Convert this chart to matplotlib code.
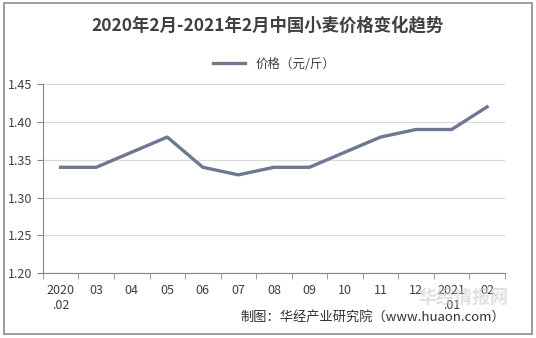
import matplotlib.pyplot as plt
from matplotlib.patches import Rectangle

plt.rcParams['font.family'] = ['Noto Sans CJK SC', 'DejaVu Sans']

months = ['2020\n.02', '03', '04', '05', '06', '07', '08', '09', '10', '11', '12', '2021\n.01', '02']
price = [1.34, 1.34, 1.36, 1.38, 1.34, 1.33, 1.34, 1.34, 1.36, 1.38, 1.39, 1.39, 1.42]
yticks = [1.20, 1.25, 1.30, 1.35, 1.40, 1.45]

fig = plt.figure(figsize=(5.36, 3.38), dpi=100)
fig.patches.append(Rectangle((0.008, 0.012), 0.984, 0.978, transform=fig.transFigure,
                             fill=False, edgecolor='#8c8c8c', linewidth=1.2))

ax = fig.add_axes([0.080, 0.192, 0.862, 0.559])
x = list(range(len(months)))
ax.plot(x, price, color='#6f7891', linewidth=2.4, label='价格（元/斤）')

ax.set_xlim(-0.5, len(months) - 0.5)
ax.set_ylim(1.20, 1.45)
ax.set_yticks(yticks)
ax.set_yticklabels([f'{v:.2f}' for v in yticks], fontsize=9, color='#404040')
ax.yaxis.grid(True, color='#d9d9d9', linewidth=0.9)
ax.set_axisbelow(True)

# category labels in the middle, tick marks on the boundaries
ax.set_xticks(x)
ax.set_xticklabels(months, fontsize=9, color='#404040', linespacing=1.2)
ax.tick_params(axis='x', length=0, pad=8)
ax.set_xticks([i - 0.5 for i in range(len(months) + 1)], minor=True)
ax.tick_params(axis='x', which='minor', length=4, color='#868686')
ax.tick_params(axis='y', length=4, color='#868686')

for side in ['top', 'right']:
    ax.spines[side].set_visible(False)
ax.spines['left'].set_color('#868686')
ax.spines['bottom'].set_color('#868686')

fig.text(0.5, 0.925, '2020年2月-2021年2月中国小麦价格变化趋势', ha='center', va='center',
         fontsize=12.5, fontweight='bold', color='#404040')
ax.legend(loc='center', bbox_to_anchor=(0.5, 1.105), frameon=False, fontsize=9,
          handlelength=2.6, labelcolor='#404040')

# faint watermark behind the last labels
fig.text(0.865, 0.118, '华经情报网', ha='center', va='center', fontsize=13,
         fontweight='bold', color='#c8c8c8', alpha=0.55, zorder=0)
fig.text(0.942, 0.062, '制图：华经产业研究院（www.huaon.com）', ha='right', va='center',
         fontsize=9.5, color='#303030')

fig.savefig('out.png', dpi=100)
